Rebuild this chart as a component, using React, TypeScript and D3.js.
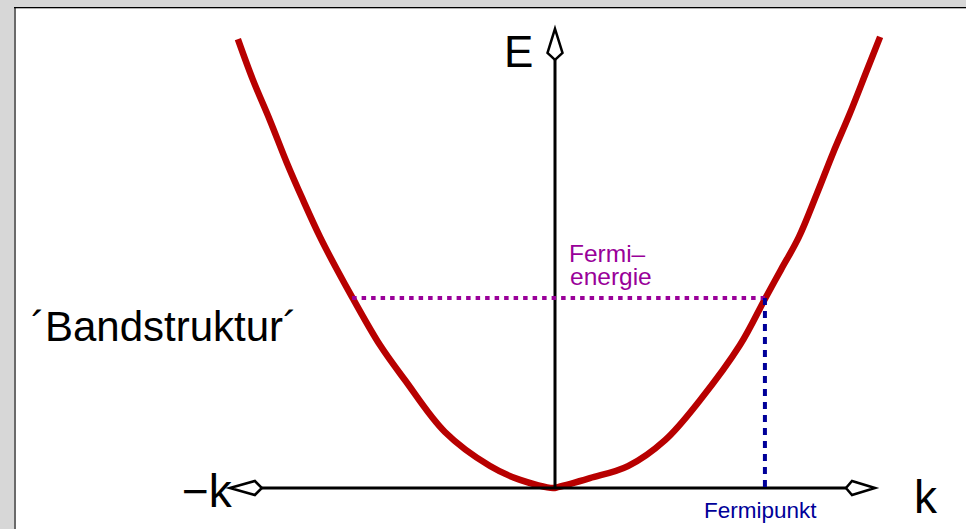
import React from "react";
import * as d3 from "d3";

// Band structure E(k) (k in units of axis half-length, E in units of plot height)
const kLeft = [-0.991, -0.944, -0.891, -0.8375, -0.7875, -0.734, -0.681, -0.634, -0.547, -0.469, -0.344, -0.203, -0.109, -0.006];
const eLeft = [1.002, 0.911, 0.821, 0.725, 0.643, 0.56, 0.487, 0.426, 0.319, 0.241, 0.125, 0.049, 0.018, 0.0];
const kRight = [0.009, 0.109, 0.228, 0.344, 0.453, 0.578, 0.656, 0.706, 0.762, 0.819, 0.869, 0.922, 0.975, 1.016];
const eRight = [0.002, 0.022, 0.049, 0.107, 0.196, 0.319, 0.422, 0.487, 0.56, 0.658, 0.748, 0.837, 0.933, 1.007];

const fermiEnergy = [0.424];
const fermiK = [-0.634, 0.656];
const axisK = [-1.016, 1.0];
const axisE = [0, 1.025];

const labels = {
  e: "E",
  kNeg: "−k",
  kPos: "k",
  band: "´Bandstruktur´",
  fermiE1: "Fermi–",
  fermiE2: "energie",
  fermiK: "Fermipunkt",
};

const W = 966;
const H = 529;
const FONT = "'Liberation Sans', Arial, Helvetica, sans-serif";

export default function App() {
  const x = d3.scaleLinear().domain([-1, 1]).range([235, 875]);
  const y = d3.scaleLinear().domain([0, 1]).range([488, 40]);

  const pts = [
    ...kLeft.map((k, i) => [k, eLeft[i]] as [number, number]),
    ...kRight.map((k, i) => [k, eRight[i]] as [number, number]),
  ];
  const line = d3
    .line<[number, number]>()
    .x((d) => x(d[0]))
    .y((d) => y(d[1]))
    .curve(d3.curveCatmullRom.alpha(0.5));

  const x0 = x(0);
  const y0 = y(0);
  const xL = x(axisK[0]);
  const xR = x(axisK[1]);
  const yT = y(axisE[1]);
  const yF = y(fermiEnergy[0]);
  const xFL = x(fermiK[0]);
  const xFR = x(fermiK[1]);

  // kite-shaped arrow heads
  const upArrow = `M${x0},${yT} L${x0 + 7.5},${yT + 24} L${x0},${yT + 31} L${x0 - 7.5},${yT + 24} Z`;
  const rightArrow = `M${xR},${y0} L${xR - 23},${y0 - 7} L${xR - 29},${y0} L${xR - 23},${y0 + 7} Z`;
  const leftArrow = `M${xL},${y0} L${xL + 25},${y0 - 7} L${xL + 32},${y0} L${xL + 25},${y0 + 7} Z`;

  return (
    <svg
      width={W}
      height={H}
      style={{ position: "fixed", left: 0, top: 0, display: "block" }}
      fontFamily={FONT}
    >
      <rect x={0} y={0} width={W} height={H} fill="#d7d7d7" />
      <rect x={16} y={8} width={W - 16} height={H - 8} fill="#ffffff" />
      <rect x={14} y={7} width={2} height={H - 7} fill="#6a6a6a" />
      <rect x={14} y={7} width={W - 14} height={1.3} fill="#000000" />

      <path d={line(pts) || ""} fill="none" stroke="#b80000" strokeWidth={6.5} strokeLinejoin="round" />

      {/* axes */}
      <line x1={xL + 32} y1={y0} x2={xR - 29} y2={y0} stroke="#000" strokeWidth={3} />
      <line x1={x0} y1={y0} x2={x0} y2={yT + 31} stroke="#000" strokeWidth={3} />
      <path d={upArrow} fill="#fff" stroke="#000" strokeWidth={2.5} strokeLinejoin="miter" />
      <path d={rightArrow} fill="#fff" stroke="#000" strokeWidth={2.5} strokeLinejoin="miter" />
      <path d={leftArrow} fill="#fff" stroke="#000" strokeWidth={2.5} strokeLinejoin="miter" />

      {/* Fermi lines */}
      <line x1={xFL} y1={yF} x2={xFR} y2={yF} stroke="#990099" strokeWidth={4} strokeDasharray="4.5 5" />
      <line x1={xFR} y1={yF} x2={xFR} y2={y0} stroke="#000099" strokeWidth={4} strokeDasharray="7 6" />

      {/* labels */}
      <text x={504} y={67} fontSize={44} fill="#000">{labels.e}</text>
      <text x={182} y={507} fontSize={46} fill="#000">{labels.kNeg}</text>
      <text x={914} y={513} fontSize={46} fill="#000">{labels.kPos}</text>
      <text x={31} y={341} fontSize={42} fill="#000">{labels.band}</text>
      <text x={569} y={262} fontSize={24.5} fill="#990099">{labels.fermiE1}</text>
      <text x={570} y={285} fontSize={24.5} fill="#990099">{labels.fermiE2}</text>
      <text x={704} y={518} fontSize={22.5} fill="#000099">{labels.fermiK}</text>
    </svg>
  );
}
